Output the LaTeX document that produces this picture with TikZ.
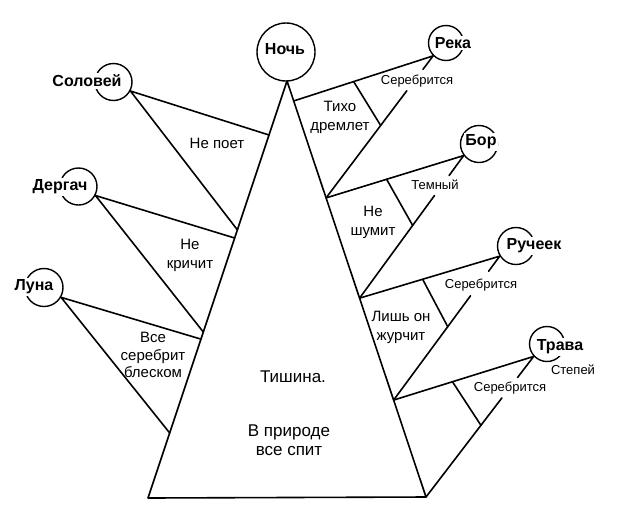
\documentclass[tikz,border=0pt]{standalone}
\usepackage{fontspec}
\setmainfont{Liberation Sans}
\usetikzlibrary{calc}
\tikzset{
  ln/.style={line width=1.6pt, line cap=round, line join=round},
  circ/.style={circle, draw, line width=1.4pt, inner sep=0pt},
  nm/.style={font=\bfseries\fontsize{16}{18}\selectfont, inner sep=1.5pt},
  nmw/.style={nm, fill=white},
  lab/.style={font=\fontsize{15}{19}\selectfont, align=center, inner sep=0pt},
  sm/.style={font=\fontsize{13}{15}\selectfont, inner sep=0pt},
  big/.style={font=\fontsize{17}{19}\selectfont, align=center, inner sep=0pt},
}
\begin{document}
\begin{tikzpicture}[x=1pt,y=-1pt]
\useasboundingbox (0,0) rectangle (617,509);
% triangle
\coordinate (apex) at (287,81);
\coordinate (bl) at (148,498);
\coordinate (br) at (426,497);
\draw[ln] (apex) -- (bl) -- (br) -- cycle;

% circles
\node[circ, minimum size=58] (noch) at (286,52) {};
\node[nm] (nocht) at (285,49) {Ночь};
\node[circ, minimum size=37] (sol) at (113.5,82) {};
\node[nmw] (solt) at (87,81) {Соловей};
\node[circ, minimum size=37] (der) at (78.5,186.5) {};
\node[nmw] (dert) at (60,187) {Дергач};
\node[circ, minimum size=38] (lun) at (44,287.5) {};
\node[nmw] (lunt) at (34,287) {Луна};
\node[circ, minimum size=35] (rek) at (446,43) {};
\node[nmw] (rekt) at (453,43) {Река};
\node[circ, minimum size=37] (bor) at (479,144) {};
\node[nmw] (bort) at (481,142) {Бор};
\node[circ, minimum size=37] (ruc) at (516,246) {};
\node[nmw] (ruct) at (534,246) {Ручеек};
\node[circ, minimum size=35] (tra) at (547,344) {};
\node[nmw] (trat) at (560,347) {Трава};

% left side points
\coordinate (l1) at ($(apex)!0.1295!(bl)$);
\coordinate (l2) at ($(apex)!0.357!(bl)$);
\coordinate (l3) at ($(apex)!0.3765!(bl)$);
\coordinate (l4) at ($(apex)!0.602!(bl)$);
\coordinate (l5) at ($(apex)!0.619!(bl)$);
\coordinate (l6) at ($(apex)!0.844!(bl)$);
\coordinate (solA) at (sol.-28);
\coordinate (derA) at (der.-28);
\coordinate (lunA) at (lun.-30);
\draw[ln] (l1) -- (solA) -- (l2);
\draw[ln] (l3) -- (derA) -- (l4);
\draw[ln] (l5) -- (lunA) -- (l6);

% right side points
\coordinate (r1) at ($(apex)!0.048!(br)$);
\coordinate (r2) at ($(apex)!0.281!(br)$);
\coordinate (r3) at ($(apex)!0.522!(br)$);
\coordinate (r4) at ($(apex)!0.767!(br)$);
\coordinate (r5) at (br);
\coordinate (rekA) at (rek.225);
\coordinate (borA) at (bor.217);
\coordinate (rucA) at (ruc.212);
\coordinate (traA) at (tra.223);

% Река branch
\draw[ln] (r1) -- (rekA) -- ($(rekA)!0.095!(r2)$);
\draw[ln] ($(rekA)!0.246!(r2)$) -- (r2);
\draw[ln] ($(r1)!0.43!(rekA)$) -- ($(rekA)!0.49!(r2)$);
% Бор branch
\draw[ln] (r2) -- (borA) -- ($(borA)!0.14!(r3)$);
\draw[ln] ($(borA)!0.28!(r3)$) -- (r3);
\draw[ln] ($(r2)!0.44!(borA)$) -- ($(borA)!0.49!(r3)$);
% Ручеек branch
\draw[ln] (r3) -- (rucA) -- ($(rucA)!0.105!(r4)$);
\draw[ln] ($(rucA)!0.275!(r4)$) -- (r4);
\draw[ln] ($(r3)!0.45!(rucA)$) -- ($(rucA)!0.49!(r4)$);
% Трава branch
\draw[ln] (r4) -- (traA) -- ($(traA)!0.15!(r5)$);
\draw[ln] ($(traA)!0.295!(r5)$) -- (r5);
\draw[ln] ($(r4)!0.42!(traA)$) -- ($(traA)!0.49!(r5)$);

% labels
\node[lab] (t1) at (217,143) {Не поет};
\node[lab] (t2) at (190,255) {Не\\кричит};
\node[lab, font=\fontsize{15}{17.5}\selectfont] (t3) at (153,355) {Все\\серебрит\\блеском};
\node[lab] (t4) at (340,117.5) {Тихо\\дремлет};
\node[lab] (t5) at (373,222.5) {Не\\шумит};
\node[lab] (t6) at (401,327.5) {Лишь он\\журчит};
\node[sm] (s1) at (417,81) {Серебрится};
\node[sm] (s2) at (435,185) {Темный};
\node[sm] (s3) at (481,285) {Серебрится};
\node[sm] (s4) at (510,388) {Серебрится};
\node[sm] (s5) at (573,370) {Степей};
\node[big] (c1) at (293,377) {Тишина.};
\node[big] (c2) at (289,440) {В природе\\все спит};
\end{tikzpicture}
\end{document}
